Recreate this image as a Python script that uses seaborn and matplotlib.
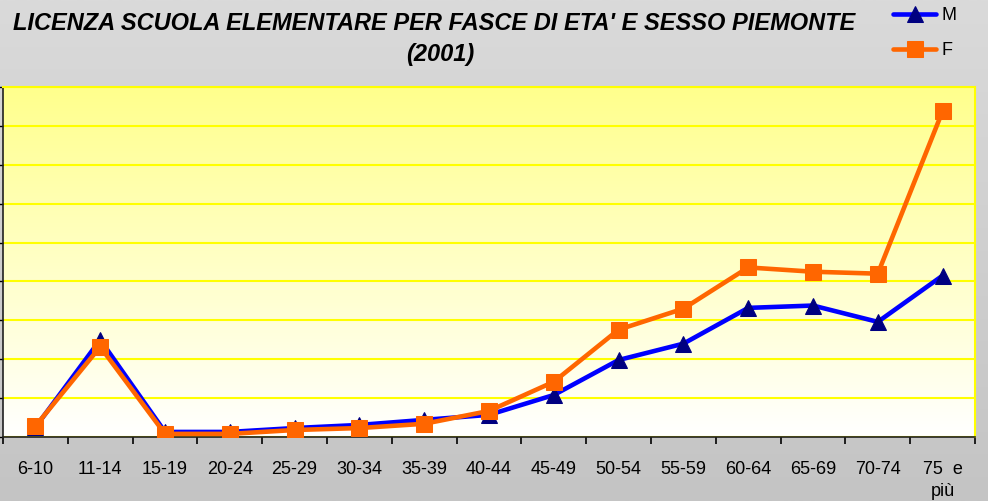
import numpy as np
import pandas as pd
import matplotlib.pyplot as plt
import seaborn as sns
from matplotlib.colors import LinearSegmentedColormap

fasce = ["6-10", "11-14", "15-19", "20-24", "25-29", "30-34", "35-39", "40-44",
         "45-49", "50-54", "55-59", "60-64", "65-69", "70-74", "75  e\npiù"]
maschi = [2.5, 25.0, 1.3, 1.3, 2.3, 3.1, 4.4, 5.7, 10.8, 19.8, 24.0, 33.2, 33.8, 29.6, 41.5]
femmine = [2.8, 23.2, 0.8, 0.8, 1.8, 2.3, 3.4, 6.7, 14.2, 27.6, 33.0, 43.6, 42.5, 42.0, 83.8]

df = pd.DataFrame({"Fascia": fasce, "M": maschi, "F": femmine})

sns.set_theme(style="white")
plt.rcParams["font.family"] = ["Liberation Sans", "DejaVu Sans"]
plt.rcParams["text.color"] = "black"

fig = plt.figure(figsize=(9.88, 5.01), dpi=100)

# sfondo grigio sfumato
bg = fig.add_axes([0, 0, 1, 1], zorder=-10)
grigio = LinearSegmentedColormap.from_list("grigio", ["#C4C4C4", "#DADADA"])
bg.imshow(np.linspace(0, 1, 256).reshape(-1, 1), cmap=grigio, origin="lower",
          aspect="auto", extent=[0, 1, 0, 1])
bg.axis("off")

ax = fig.add_axes([3 / 988, 64 / 501, 972 / 988, 350 / 501])

sns.lineplot(data=df, x="Fascia", y="M", ax=ax, color="#0000FF", linewidth=3.3,
             marker="^", markersize=15, markerfacecolor="#000080",
             markeredgecolor="#000080", label="M", zorder=3)
sns.lineplot(data=df, x="Fascia", y="F", ax=ax, color="#FF6600", linewidth=3.3,
             marker="s", markersize=14, markerfacecolor="#FF6600",
             markeredgecolor="#FF6600", label="F", zorder=4)

# area del grafico sfumata giallo -> bianco
giallo = LinearSegmentedColormap.from_list("giallo", ["#FFFFFF", "#FFFF8C"])
ax.imshow(np.linspace(0, 1, 256).reshape(-1, 1), cmap=giallo, origin="lower",
          aspect="auto", extent=[-0.5, len(fasce) - 0.5, 0, 90], zorder=0)

ax.set_xlim(-0.5, len(fasce) - 0.5)
ax.set_ylim(0, 90)
ax.set_yticks(np.arange(0, 91, 10))
ax.set_yticklabels([])
ax.set_axisbelow(True)
ax.grid(axis="y", color="#FFFF00", linewidth=1.5)
ax.grid(axis="x", visible=False)

ax.set_xticks(np.arange(len(fasce)))
ax.set_xticklabels(fasce, fontsize=13, color="black", va="top", linespacing=1.45)
ax.set_xticks(np.arange(-0.5, len(fasce), 1), minor=True)
ax.tick_params(axis="x", which="major", length=0, pad=17)
ax.tick_params(axis="x", which="minor", bottom=True, length=5, width=1.2,
               color="black", direction="out")
ax.tick_params(axis="y", left=True, length=4, width=1, color="black", direction="out")
ax.set_xlabel("")
ax.set_ylabel("")

for s in ["left", "bottom"]:
    ax.spines[s].set_color("#202020")
    ax.spines[s].set_linewidth(1.2)
for s in ["top", "right"]:
    ax.spines[s].set_color("#FFFF00")
    ax.spines[s].set_linewidth(1.5)

handles, labels = ax.get_legend_handles_labels()
ax.get_legend().remove()
for h in handles:
    h.set_markersize(11)
fig.legend(handles, labels, loc="upper left", bbox_to_anchor=(893 / 988, 1 - 7 / 501),
           frameon=False, fontsize=13, handlelength=2.4, labelspacing=1.0,
           handletextpad=0.3, borderpad=0, borderaxespad=0)

fig.text(434 / 988, 1 - 23 / 501,
         "LICENZA SCUOLA ELEMENTARE PER FASCE DI ETA' E SESSO PIEMONTE",
         ha="center", va="center", fontsize=17, fontweight="bold", fontstyle="italic",
         color="black")
fig.text(440 / 988, 1 - 55 / 501, "(2001)", ha="center", va="center",
         fontsize=17, fontweight="bold", fontstyle="italic", color="black")

plt.savefig("out.png", dpi=100)
